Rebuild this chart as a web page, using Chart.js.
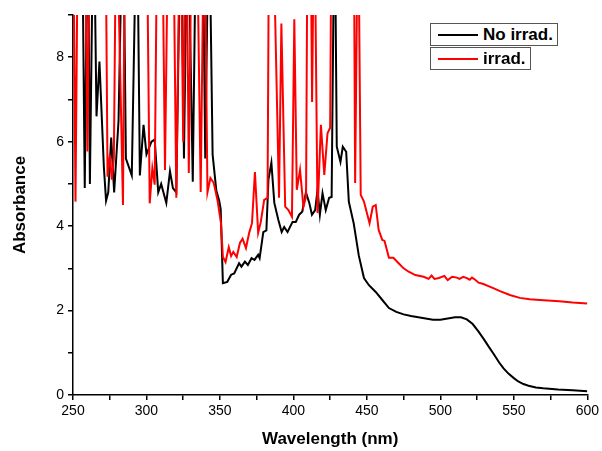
<!DOCTYPE html>
<html>
<head>
<meta charset="utf-8">
<script src="https://cdn.jsdelivr.net/npm/chart.js@4.4.1/dist/chart.umd.min.js"></script>
<style>
  body { margin: 0; background: #fff; }
  #wrap { position: relative; width: 602px; height: 451px; }
  .leg {
    position: absolute; left: 430px; height: 21px;
    border: 1px solid #555; background: #fff;
    font: bold 17px "Liberation Sans", Arial, sans-serif;
    line-height: 21px; color: #000;
  }
  .leg span.ln { position: absolute; left: 7px; top: 10px; width: 40px; height: 2px; }
  .leg span.tx { position: absolute; left: 52px; top: 0; white-space: nowrap; }
</style>
</head>
<body>
<div id="wrap">
  <canvas id="chart" width="602" height="451"></canvas>
  <div class="leg" style="top:23px; width:126px;"><span class="ln" style="background:#000"></span><span class="tx">No irrad.</span></div>
  <div class="leg" style="top:47px; width:99px;"><span class="ln" style="background:#ff0000"></span><span class="tx">irrad.</span></div>
</div>
<script>
// Wellenlaengen (nm) und Absorbanz (Spitzen > 9 werden abgeschnitten)
const noIrradNm = [250, 252, 254, 256, 258, 260, 261.5, 264, 266, 268, 271, 272.5, 274, 276, 278, 281, 284, 286, 290, 293.5, 295.5, 298, 300, 303.4, 305.6, 308, 310, 313.5, 316, 318, 320.3, 323.5, 325.5, 328, 331.5, 334, 338, 340, 342.5, 345, 347.5, 349.5, 350.5, 352, 355, 357.6, 359.7, 363, 364.6, 367, 369, 371.5, 373.5, 376, 377, 379.5, 381.6, 383, 385, 387, 389.7, 392, 393.7, 396, 399.4, 401.6, 403.9, 406, 408.5, 410.8, 412.6, 414.8, 416.4, 418, 419.8, 422, 424.3, 426, 428, 429.5, 432, 433.6, 435.9, 437.7, 441, 444.5, 448, 451.4, 456, 460.5, 465, 470, 475, 480, 485, 490, 495, 500, 505, 510, 514, 518, 522, 526, 530, 533, 536.5, 540, 543, 546.5, 550, 553, 556.5, 560, 565, 570, 580, 590, 600];
const noIrradAbs = [12, 12, 12, 12, 4.9, 12, 5.0, 12, 6.6, 7.9, 5.4, 4.6, 4.8, 6.1, 4.8, 6.5, 12, 5.6, 5.2, 12, 5.2, 6.4, 5.7, 6.0, 6.05, 4.8, 5.0, 4.55, 5.3, 4.9, 4.8, 12, 5.6, 12, 5.05, 12, 12, 5.6, 12, 5.7, 4.85, 4.6, 4.4, 2.65, 2.68, 2.85, 2.88, 3.12, 3.04, 3.16, 3.08, 3.24, 3.2, 3.32, 3.24, 3.86, 3.9, 5.1, 5.5, 4.55, 4.15, 3.86, 3.98, 3.86, 4.1, 4.1, 4.27, 4.34, 4.8, 4.55, 4.27, 4.38, 4.86, 4.27, 4.78, 4.38, 4.67, 4.69, 12, 5.88, 5.52, 5.88, 5.76, 4.58, 4.07, 3.3, 2.77, 2.6, 2.44, 2.25, 2.06, 1.97, 1.91, 1.87, 1.84, 1.81, 1.78, 1.78, 1.81, 1.84, 1.84, 1.79, 1.68, 1.5, 1.3, 1.14, 0.96, 0.77, 0.63, 0.5, 0.4, 0.32, 0.26, 0.22, 0.18, 0.16, 0.13, 0.11, 0.09];

const irradNm = [250, 251.7, 253.5, 258, 259.8, 261.5, 272, 273.5, 275.1, 276.4, 277.8, 279.5, 284, 285.5, 300, 302.2, 304, 305.6, 307.5, 310.5, 312.6, 315, 318, 320.3, 323, 325, 327, 328.8, 331, 334, 336.9, 339.3, 341.5, 343.5, 345.8, 348.3, 350.7, 352, 353.8, 356, 357.6, 359.1, 361.4, 363.6, 365.4, 367.7, 369.9, 371.8, 373.8, 376, 377.8, 380.1, 382.4, 383.5, 385.7, 390.2, 391.8, 394.4, 396.6, 399, 400.6, 402.3, 404.5, 406.8, 408.6, 409.7, 411.5, 412.7, 414.2, 416.4, 418.7, 421, 423.2, 425, 426, 441, 442, 444, 445.8, 448, 451.8, 454, 456, 458, 460.5, 462, 465, 468, 471.6, 475, 478.4, 483, 488.6, 492, 494, 496, 499, 502.7, 505, 508, 511.3, 513, 515.6, 518, 520, 521.5, 523.7, 526, 529.3, 532.7, 536, 540.6, 547.3, 554, 560.8, 567.6, 581, 590, 600];
const irradAbs = [12, 4.58, 12, 12, 5.77, 12, 12, 5.17, 5.69, 5.1, 5.6, 12, 4.5, 12, 12, 4.54, 5.37, 4.98, 12, 12, 5.33, 12, 12, 4.67, 12, 6.0, 12, 5.26, 12, 12, 4.81, 12, 4.8, 5.14, 5.02, 4.62, 4.07, 3.27, 3.15, 3.5, 3.29, 3.39, 3.27, 3.6, 3.7, 3.48, 3.84, 4.07, 5.28, 3.84, 4.1, 4.62, 4.67, 12, 12, 4.67, 8.8, 4.46, 4.38, 4.22, 8.9, 4.86, 5.33, 4.46, 4.7, 12, 12, 6.94, 12, 4.31, 6.4, 5.21, 6.2, 6.33, 12, 12, 5.02, 12, 4.74, 4.58, 4.07, 4.46, 4.5, 3.91, 3.67, 3.65, 3.25, 3.25, 3.12, 3.0, 2.92, 2.84, 2.8, 2.75, 2.83, 2.75, 2.77, 2.82, 2.72, 2.8, 2.78, 2.75, 2.8, 2.77, 2.73, 2.78, 2.73, 2.66, 2.63, 2.58, 2.53, 2.46, 2.37, 2.3, 2.27, 2.25, 2.22, 2.19, 2.17];

// Achsenbeschriftungen
const xTickLabels = [250, 300, 350, 400, 450, 500, 550, 600];
const yTickLabels = [0, 2, 4, 6, 8];

function toPoints(xs, ys) {
    return xs.map((x, i) => ({ x: x, y: ys[i] }));
}

const fontFamily = '"Liberation Sans", Arial, sans-serif';

new Chart(document.getElementById('chart'), {
    type: 'line',
    data: {
        datasets: [
            {
                label: 'No irrad.',
                data: toPoints(noIrradNm, noIrradAbs),
                borderColor: '#000000',
                borderWidth: 2,
                pointRadius: 0,
                tension: 0,
                order: 1
            },
            {
                // rote Kurve liegt wie im Original oben
                label: 'irrad.',
                data: toPoints(irradNm, irradAbs),
                borderColor: '#ff0000',
                borderWidth: 2,
                pointRadius: 0,
                tension: 0,
                order: 0
            }
        ]
    },
    options: {
        responsive: false,
        animation: false,
        layout: { padding: { top: 15, right: 13, left: 0, bottom: 0 } },
        plugins: {
            legend: { display: false },
            tooltip: { enabled: false }
        },
        scales: {
            x: {
                type: 'linear',
                min: 250,
                max: 600,
                afterFit: (scale) => { scale.height = 56; },
                border: { display: true, color: '#000', width: 1.5 },
                grid: { drawOnChartArea: false, drawTicks: true, tickLength: 5, color: '#000', lineWidth: 1.5 },
                ticks: {
                    stepSize: 25,
                    autoSkip: false,
                    maxRotation: 0,
                    padding: 3,
                    color: '#000',
                    font: { family: fontFamily, size: 14 },
                    callback: (v) => xTickLabels.includes(v) ? String(v) : ''
                },
                title: {
                    display: true,
                    text: 'Wavelength (nm)',
                    color: '#000',
                    font: { family: fontFamily, size: 17, weight: 'bold' },
                    padding: { top: 0, bottom: 1 }
                }
            },
            y: {
                min: 0,
                max: 9,
                afterFit: (scale) => { scale.width = 73; },
                border: { display: true, color: '#000', width: 1.5 },
                grid: { drawOnChartArea: false, drawTicks: true, tickLength: 5, color: '#000', lineWidth: 1.5 },
                ticks: {
                    stepSize: 1,
                    autoSkip: false,
                    padding: 4,
                    color: '#000',
                    font: { family: fontFamily, size: 14 },
                    callback: (v) => yTickLabels.includes(v) ? String(v) : ''
                },
                title: {
                    display: true,
                    text: 'Absorbance',
                    color: '#000',
                    font: { family: fontFamily, size: 17, weight: 'bold' },
                    padding: { top: 10, bottom: 0 }
                }
            }
        }
    }
});
</script>
</body>
</html>
